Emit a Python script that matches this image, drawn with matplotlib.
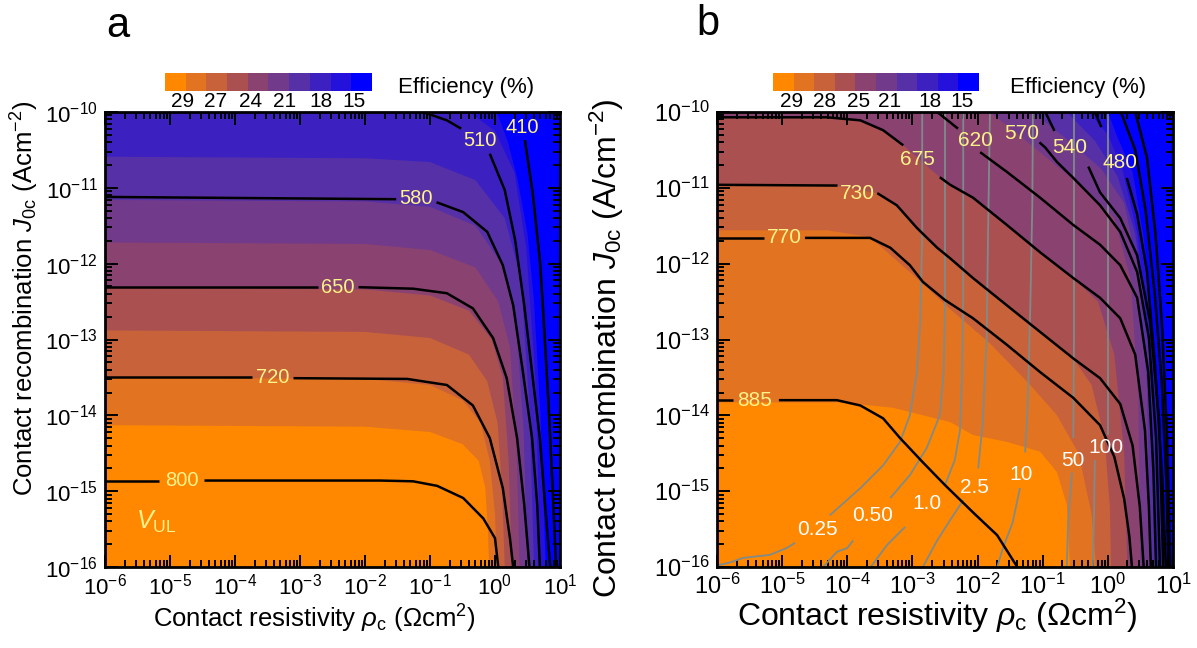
import numpy as np
import matplotlib
matplotlib.use('Agg')
import matplotlib.pyplot as plt
from matplotlib.colors import ListedColormap
from matplotlib.ticker import LogLocator, NullFormatter

plt.rcParams['font.family'] = ['Liberation Sans', 'DejaVu Sans']
plt.rcParams['mathtext.fontset'] = 'custom'
plt.rcParams['mathtext.rm'] = 'Liberation Sans'
plt.rcParams['mathtext.it'] = 'Liberation Sans:italic'
plt.rcParams['mathtext.bf'] = 'Liberation Sans:bold'

# all curve coordinates are log10(rho_c) / log10(J0c)
band_colors = ['#ff8800', '#e27320', '#c8623a', '#aa5050', '#8a4270',
               '#723a8a', '#5630a6', '#3c21c0', '#2412dc', '#0000ff']
cbar_a_labels = ['29', '27', '24', '21', '18', '15']
cbar_b_labels = ['29', '28', '25', '21', '18', '15']

# ---- panel a: efficiency band edges (inner -> outer) ----
a_band_x = [
    [-6, -2, -1, -0.5, -0.25, -0.15, -0.11, -0.09],
    [-6, -2, -1, -0.5, -0.22, -0.08, 0.0, 0.03],
    [-6, -2, -1, -0.4, -0.12, 0.04, 0.11, 0.15],
    [-6, -2, -1, -0.4, -0.05, 0.12, 0.21, 0.26],
    [-6, -2, -1, -0.3, 0.05, 0.23, 0.33, 0.38],
    [-6, -2, -1, -0.3, 0.1, 0.32, 0.44, 0.5],
    [-6, -2, -1, -0.3, 0.15, 0.4, 0.53, 0.6],
    [-0.4, 0.0, 0.3, 0.48, 0.62, 0.7],
    [0.03, 0.2, 0.35, 0.5, 0.6, 0.7, 0.78],
]
a_band_y = [
    [-14.13, -14.15, -14.22, -14.38, -14.6, -14.95, -15.5, -16],
    [-13.5, -13.52, -13.6, -13.8, -14.1, -14.6, -15.3, -16],
    [-12.88, -12.9, -12.98, -13.2, -13.55, -14.1, -15.0, -16],
    [-12.32, -12.34, -12.42, -12.62, -13.0, -13.5, -14.6, -16],
    [-11.72, -11.74, -11.82, -12.05, -12.5, -13.1, -14.4, -16],
    [-11.16, -11.18, -11.25, -11.5, -12.0, -12.7, -14.2, -16],
    [-10.59, -10.61, -10.66, -10.9, -11.4, -12.2, -13.9, -16],
    [-10, -10.25, -10.8, -11.8, -13.5, -16],
    [-10, -10.4, -10.9, -11.6, -12.5, -14, -16],
]

# ---- panel a: V_UL lines (mV), drawn as pieces split at the labels ----
a_voc_labels = ['800', '720', '650', '580', '510', '410']
a_voc_x = [
    [[-6, -5.17], [-4.47, -3, -1.77, -1.26, -0.89, -0.49, -0.18, 0.0, 0.05]],
    [[-6, -3.74], [-3.1, -1.35, -0.74, -0.34, -0.08, 0.12, 0.23, 0.28]],
    [[-6, -2.72], [-2.1, -1.26, -0.74, -0.34, -0.03, 0.18, 0.34, 0.45, 0.53]],
    [[-6, -1.52], [-0.9, -0.49, -0.12, 0.12, 0.28, 0.43, 0.57, 0.65, 0.69]],
    [[-1.11, -0.74, -0.52], [-0.08, 0.15, 0.31, 0.45, 0.57, 0.69, 0.77, 0.85]],
    [[0.46, 0.58, 0.69, 0.74, 0.82, 0.88, 0.94]],
]
a_voc_y = [
    [[-14.86, -14.86], [-14.86, -14.86, -14.86, -14.87, -14.93, -15.09, -15.36, -15.62, -16]],
    [[-13.5, -13.5], [-13.51, -13.52, -13.6, -13.87, -14.3, -14.96, -15.62, -16]],
    [[-12.31, -12.31], [-12.31, -12.33, -12.39, -12.59, -12.98, -13.51, -14.3, -15.18, -16]],
    [[-11.12, -11.15], [-11.19, -11.32, -11.58, -12.02, -12.55, -13.43, -14.3, -15.18, -16]],
    [[-10, -10.11, -10.22], [-10.55, -11.03, -11.69, -12.55, -13.43, -14.3, -15.18, -16]],
    [[-10.37, -11.07, -11.95, -12.61, -13.8, -14.85, -16]],
]
a_voc_label_xy = [(-4.82, -14.86), (-3.42, -13.5), (-2.42, -12.31), (-1.21, -11.14),
                  (-0.23, -10.38), (0.42, -10.21)]

# ---- panel b: efficiency band edges ----
b_band_x = [
    [-6, -4.1, -3.3, -2.42, -2.07, -1.55, -1.04, -0.78, -0.63, -0.58],
    [-6, -4.3, -3.65, -3.04, -2.42, -1.81, -1.19, -0.78, -0.45, -0.25, -0.18],
    [-6, -4.2, -3.54, -3.24, -2.93, -2.62, -2.07, -1.55, -1.04, -0.53, -0.25, -0.05, 0.03, 0.05],
    [-6, -4.31, -3.8, -3.45, -3.14, -2.58, -2.07, -1.55, -1.04, -0.53, -0.15, 0.1, 0.25, 0.3],
    [-1.81, -1.3, -0.8, -0.3, 0.1, 0.35, 0.47, 0.5],
    [-1.15, -0.6, -0.1, 0.25, 0.45, 0.6, 0.65],
    [-0.63, -0.2, 0.15, 0.42, 0.62, 0.76],
    [-0.3, 0.0, 0.22, 0.45, 0.62, 0.76, 0.84],
    [0.0, 0.15, 0.38, 0.55, 0.7, 0.82, 0.9],
]
b_band_y = [
    [-13.83, -13.83, -13.9, -14.09, -14.26, -14.35, -14.48, -14.75, -15.18, -16],
    [-11.56, -11.56, -11.65, -12.11, -12.6, -13.05, -13.6, -14.0, -14.5, -15.3, -16],
    [-10.96, -10.97, -11.07, -11.23, -11.53, -11.79, -12.19, -12.55, -12.9, -13.25, -13.6, -14.3, -15.2, -16],
    [-10.07, -10.07, -10.11, -10.24, -10.44, -10.86, -11.13, -11.49, -11.85, -12.19, -12.5, -13.2, -14.5, -16],
    [-10, -10.35, -10.7, -11.05, -11.4, -12.2, -13.8, -16],
    [-10, -10.38, -10.75, -11.2, -12.0, -13.6, -16],
    [-10, -10.38, -10.85, -11.6, -13.0, -16],
    [-10, -10.3, -10.75, -11.6, -12.9, -14.3, -16],
    [-10, -10.34, -10.79, -11.66, -12.98, -14.3, -16],
]

# ---- panel b: V_UL lines (mV) ----
b_voc_labels = ['885', '770', '730', '675', '620', '570', '540', '480', '', '']
b_voc_x = [
    [[-6, -5.75], [-5.05, -4.16, -3.8, -3.45, -3.19, -2.84, -2.5, -2.07, -1.7, -1.39]],
    [[-6, -5.28], [-4.65, -3.65, -3.34, -3.04, -2.84, -2.5, -2.07, -1.55, -1.04, -0.53, -0.12, 0.1, 0.25, 0.33, 0.37]],
    [[-6, -4.15], [-3.54, -3.24, -2.93, -2.62, -2.42, -2.07, -1.55, -1.04, -0.53, -0.12, 0.19, 0.38, 0.49, 0.55]],
    [[-6, -4.31, -3.8, -3.45, -3.14], [-2.58, -2.42, -2.07, -1.55, -1.04, -0.53, -0.12, 0.19, 0.42, 0.57, 0.63, 0.66]],
    [[-2.62, -2.3], [-1.96, -1.55, -1.04, -0.53, -0.12, 0.19, 0.45, 0.62, 0.7, 0.74]],
    [[-1.05, -0.96, -0.78, -0.53, -0.12, 0.19, 0.45, 0.63, 0.74, 0.8]],
    [[-0.96, -0.82], [-0.3, -0.12, 0.19, 0.45, 0.65, 0.79, 0.85]],
    [[-0.2, -0.1], [0.29, 0.45, 0.6, 0.72, 0.83, 0.89]],
    [[0.2, 0.42, 0.58, 0.72, 0.83, 0.9, 0.93]],
    [[0.42, 0.6, 0.73, 0.83, 0.91, 0.96]],
]
b_voc_y = [
    [[-13.8, -13.8], [-13.8, -13.8, -13.87, -14.04, -14.3, -14.62, -14.92, -15.28, -15.58, -16]],
    [[-11.66, -11.66], [-11.66, -11.66, -11.79, -12.02, -12.24, -12.48, -12.72, -13.07, -13.43, -13.77, -14.13, -14.55, -15.1, -15.6, -16]],
    [[-10.96, -10.97], [-11.07, -11.23, -11.53, -11.79, -11.93, -12.19, -12.55, -12.9, -13.25, -13.51, -13.85, -14.4, -15.2, -16]],
    [[-10.07, -10.07, -10.11, -10.24, -10.44], [-10.86, -10.96, -11.13, -11.49, -11.85, -12.19, -12.45, -12.72, -13.2, -14.2, -15.2, -16]],
    [[-10, -10.22], [-10.53, -10.79, -11.13, -11.49, -11.75, -12.02, -12.45, -13.43, -14.75, -16]],
    [[-10.4, -10.47, -10.66, -10.87, -11.23, -11.58, -12.11, -12.98, -14.3, -16]],
    [[-10.0, -10.25], [-10.72, -11.06, -11.4, -11.89, -12.77, -14.09, -16]],
    [[-10, -10.2], [-10.87, -11.35, -12.1, -13.3, -14.75, -16]],
    [[-10, -10.5, -11.3, -12.4, -13.6, -14.9, -16]],
    [[-10, -10.6, -11.6, -12.8, -14.3, -16]],
]
b_voc_label_xy = [(-5.42, -13.8), (-4.97, -11.66), (-3.84, -11.07), (-2.93, -10.63),
                  (-2.04, -10.37), (-1.32, -10.29), (-0.58, -10.47), (0.19, -10.66)]

# ---- panel b: grey lines ----
b_grey_labels = ['0.25', '0.50', '1.0', '2.5', '10', '50', '100']
b_grey_x = [
    [[-6.0, -5.8, -5.6, -5.19, -4.93, -4.8], [-4.27, -3.8, -3.45, -3.19, -3.04, -2.93, -2.88, -2.85, -2.85]],
    [[-4.37, -4.16, -4.0, -3.91], [-3.34, -3.04, -2.78, -2.58, -2.52, -2.5, -2.5]],
    [[-3.64, -3.39, -3.11], [-2.5, -2.35, -2.27, -2.24, -2.22, -2.22]],
    [[-2.84, -2.62, -2.42, -2.22], [-1.99, -1.92, -1.86, -1.84, -1.81]],
    [[-1.7, -1.61, -1.46, -1.35], [-1.27, -1.23, -1.19, -1.16, -1.15]],
    [[-0.63, -0.61, -0.55], [-0.53, -0.52, -0.52, -0.52]],
    [[-0.23, -0.21, -0.2], [0.0, 0.0, 0.0, 0.0]],
]
b_grey_y = [
    [[-15.98, -15.94, -15.88, -15.84, -15.75, -15.68], [-15.32, -14.96, -14.66, -14.35, -14.0, -13.43, -12.77, -11.66, -10.0]],
    [[-16, -15.8, -15.75, -15.65], [-15.09, -14.79, -14.43, -14.0, -13.43, -12.55, -10.0]],
    [[-16, -15.71, -15.47], [-14.92, -14.59, -14.2, -13.54, -12.48, -10.0]],
    [[-16, -15.65, -15.38, -15.12], [-14.7, -14.09, -12.98, -11.66, -10.0]],
    [[-16, -15.75, -15.41, -14.96], [-14.49, -13.87, -12.55, -11.23, -10.0]],
    [[-16, -15.41, -14.75], [-14.3, -12.98, -11.23, -10.0]],
    [[-16, -15.18, -14.59], [-14.26, -12.98, -11.23, -10.0]],
]
b_grey_label_xy = [(-4.46, -15.51), (-3.61, -15.32), (-2.78, -15.16), (-2.05, -14.95),
                   (-1.33, -14.78), (-0.53, -14.6), (-0.03, -14.42)]

YELLOW = '#fff38a'
GREY = '#7f8b8b'


def L(v):
    return np.power(10.0, np.asarray(v, dtype=float))


def setup_axes(ax, tick_size):
    ax.set_xscale('log')
    ax.set_yscale('log')
    ax.set_xlim(1e-6, 10)
    ax.set_ylim(1e-16, 1e-10)
    for axis in (ax.xaxis, ax.yaxis):
        axis.set_major_locator(LogLocator(base=10, numticks=20))
        axis.set_minor_locator(LogLocator(base=10, subs=np.arange(2, 10), numticks=200))
        axis.set_minor_formatter(NullFormatter())
    ax.tick_params(which='both', direction='in', top=True, right=True, width=1.4, color='k')
    ax.tick_params(which='major', length=9, labelsize=tick_size, pad=5)
    ax.tick_params(which='minor', length=5)
    for s in ax.spines.values():
        s.set_linewidth(2)


def draw_bands(ax, bx, by):
    ax.fill(L([-6, 1, 1, -6]), L([-16, -16, -10, -10]), color=band_colors[-1], lw=0)
    for k in range(len(bx) - 1, -1, -1):
        xs = list(bx[k]) + [-6, -6]
        ys = list(by[k]) + [-16, by[k][0]]
        ax.fill(L(xs), L(ys), color=band_colors[k], lw=0)


def draw_lines(ax, xs, ys, color, lw):
    for px, py in zip(xs, ys):
        for sx, sy in zip(px, py):
            ax.plot(L(sx), L(sy), color=color, lw=lw, solid_capstyle='butt')


def draw_cbar(fig, rect, labels, pos):
    cax = fig.add_axes(rect)
    cax.imshow(np.arange(10)[None, :], cmap=ListedColormap(band_colors),
               aspect='auto', extent=(0, 1, 0, 1))
    cax.set_axis_off()
    for s, p in zip(labels, pos):
        cax.text(p, -0.08, s, transform=cax.transAxes, ha='center', va='top', fontsize=15)


W, H = 1197, 648
fig = plt.figure(figsize=(W / 100, H / 100), dpi=100)

# panel a
axa = fig.add_axes([105 / W, 1 - 567 / H, 455 / W, 455 / H])
setup_axes(axa, 16)
draw_bands(axa, a_band_x, a_band_y)
draw_lines(axa, a_voc_x, a_voc_y, 'k', 1.8)
for s, (x, y) in zip(a_voc_labels, a_voc_label_xy):
    axa.text(L(x), L(y), s, color=YELLOW, ha='center', va='center', fontsize=14.5)
axa.text(L(-5.52), L(-15.4), r'$V_{\rm UL}$', color=YELLOW, ha='left', va='center', fontsize=18)
axa.set_xlabel(r'Contact resistivity $\rho_{\rm c}$ (Ωcm$^2$)', fontsize=18.5)
axa.set_ylabel(r'Contact recombination $J_{\rm 0c}$ (Acm$^{-2}$)', fontsize=18.5)
axa.xaxis.set_label_coords(0.46, -0.078)
axa.yaxis.set_label_coords(-0.14, 0.59)

# panel b
axb = fig.add_axes([717 / W, 1 - 567 / H, 456 / W, 455 / H])
setup_axes(axb, 17)
draw_bands(axb, b_band_x, b_band_y)
draw_lines(axb, b_grey_x, b_grey_y, GREY, 1.3)
draw_lines(axb, b_voc_x, b_voc_y, 'k', 1.8)
for s, (x, y) in zip(b_voc_labels, b_voc_label_xy):
    axb.text(L(x), L(y), s, color=YELLOW, ha='center', va='center', fontsize=15)
for s, (x, y) in zip(b_grey_labels, b_grey_label_xy):
    axb.text(L(x), L(y), s, color='white', ha='center', va='center', fontsize=15)
axb.set_xlabel(r'Contact resistivity $\rho_{\rm c}$ (Ωcm$^2$)', fontsize=23)
axb.set_ylabel(r'Contact recombination $J_{\rm 0c}$ (A/cm$^{-2}$)', fontsize=23)
axb.xaxis.set_label_coords(0.482, -0.066)
axb.yaxis.set_label_coords(-0.2, 0.48)

# colour bars
draw_cbar(fig, [165 / W, 1 - 91 / H, 207 / W, 18 / H], cbar_a_labels,
          [0.087, 0.246, 0.415, 0.58, 0.755, 0.913])
draw_cbar(fig, [773 / W, 1 - 91 / H, 206 / W, 18 / H], cbar_b_labels,
          [0.092, 0.248, 0.413, 0.568, 0.762, 0.917])
fig.text(466 / W, 1 - 87 / H, 'Efficiency (%)', ha='center', va='center', fontsize=16)
fig.text(1078 / W, 1 - 87 / H, 'Efficiency (%)', ha='center', va='center', fontsize=16)
fig.text(118 / W, 1 - 26 / H, 'a', ha='center', va='center', fontsize=30)
fig.text(708 / W, 1 - 24 / H, 'b', ha='center', va='center', fontsize=30)

fig.savefig('out.png', dpi=100)
